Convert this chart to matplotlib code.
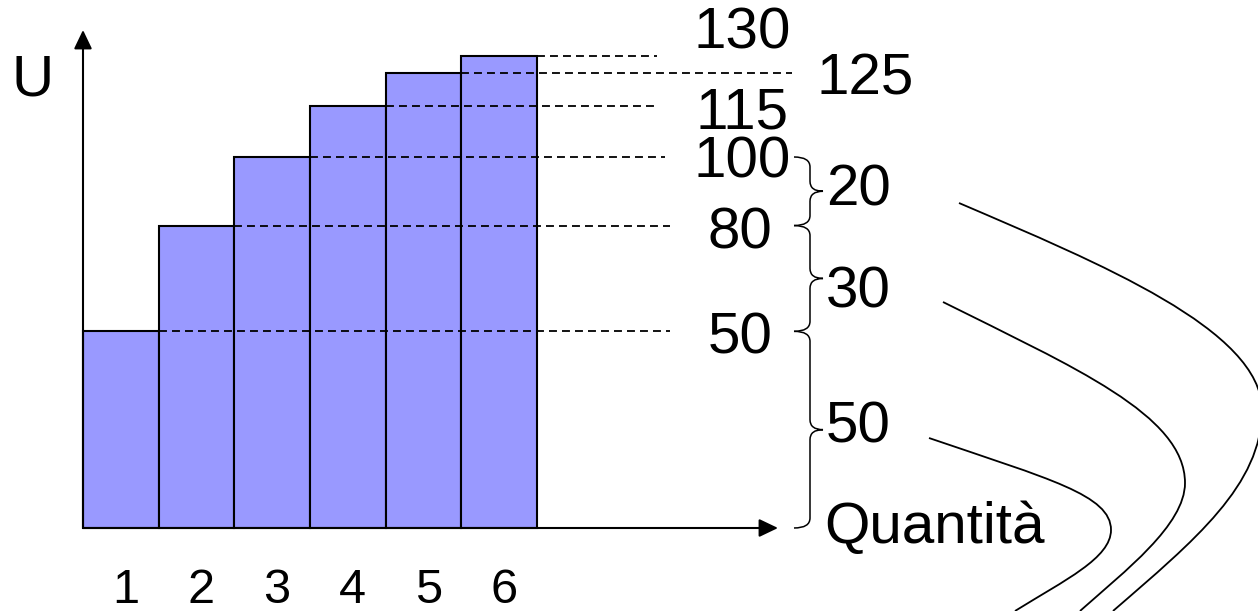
import numpy as np
import matplotlib.pyplot as plt
from matplotlib.path import Path
from matplotlib.patches import PathPatch

plt.rcParams['font.family'] = ['Liberation Sans', 'DejaVu Sans']

quantita = [1, 2, 3, 4, 5, 6]
utilita = [50, 80, 100, 115, 125, 130]
marginali = list(np.diff([0] + utilita))

W, H = 1258, 611
x0_px, bar_px, base_px = 83, 75.67, 528
a_px, p = 5.47, 0.9157   # hand-drawn vertical scale, a bit compressed at the top

fig = plt.figure(figsize=(W / 100, H / 100), dpi=100)
ax = fig.add_axes([0, 0, 1, 1])
ax.axis('off')
ax.set_yscale('function', functions=(lambda v: np.sign(v) * np.abs(v) ** p,
                                     lambda u: np.sign(u) * np.abs(u) ** (1 / p)))


def px2x(px):
    return (px - x0_px) / bar_px + 0.5


ax.set_xlim(px2x(0), px2x(W))
ax.set_ylim(-((H - base_px) / a_px) ** (1 / p), (base_px / a_px) ** (1 / p))


def vy(v):
    # image-pixel row of a value
    return H - ax.transData.transform((0, v))[1]


def fp(x, y):
    return (x / W, 1 - y / H)


ax.bar(quantita, utilita, width=1, color='#9999ff', edgecolor='black',
       linewidth=1.5, zorder=2)

# dashed guides and value labels
dash_end = [670, 670, 665, 657, 792, 657]
lab_x = [740, 740, 742, 742, 865, 742]
lab_dy = [22, 23, 21, 22, 22, -8]
for q, v, xe, xl, dy in zip(quantita, utilita, dash_end, lab_x, lab_dy):
    ax.plot([q + 0.5, px2x(xe)], [v, v], color='black', lw=1.3,
            dashes=(4.4, 2.8), zorder=3)
    ax.annotate(str(v), xy=(px2x(xl), v), xytext=(0, -dy * 0.72),
                textcoords='offset points', ha='center', va='baseline',
                fontsize=42)

for q in quantita:
    ax.annotate(str(q), xy=(q, 0), xytext=(3.5, -(603 - base_px) * 0.72),
                textcoords='offset points', ha='center', va='baseline',
                fontsize=35)

# axes arrows
arrow = dict(arrowstyle='-|>,head_length=1.15,head_width=0.55', lw=1.5,
             color='black', shrinkA=0, shrinkB=0, mutation_scale=10)
ax.annotate('', xy=(x0_px, H - 30), xytext=(x0_px, H - base_px),
            xycoords='figure pixels', textcoords='figure pixels', arrowprops=arrow)
ax.annotate('', xy=(778, H - base_px), xytext=(x0_px, H - base_px),
            xycoords='figure pixels', textcoords='figure pixels', arrowprops=arrow)

fig.text(*fp(33, 96), 'U', ha='center', va='baseline', fontsize=42)
fig.text(*fp(824, 543), 'Quantità', ha='left', va='baseline', fontsize=42)

# braces with the marginal utilities
xh, xb, xt, r = 794, 810, 823, 10
brace_dy = [13, 29, 14]
lows = [0] + utilita
for i in range(3):
    y0, y1 = vy(utilita[i]), vy(lows[i])
    ym = (y0 + y1) / 2
    verts = [(xh, y0), (xb, y0), (xb, y0 + r), (xb, ym - r), (xb, ym), (xt, ym),
             (xb, ym), (xb, ym + r), (xb, y1 - r), (xb, y1), (xh, y1)]
    codes = [Path.MOVETO, Path.CURVE3, Path.CURVE3, Path.LINETO, Path.CURVE3,
             Path.CURVE3, Path.CURVE3, Path.CURVE3, Path.LINETO, Path.CURVE3,
             Path.CURVE3]
    fig.patches.append(PathPatch(Path([fp(*v) for v in verts], codes),
                                 transform=fig.transFigure, fill=False,
                                 lw=1.1, edgecolor='black'))
    fig.text(*fp(826, ym + brace_dy[i]), str(marginali[i]), ha='left',
             va='baseline', fontsize=42)

# indifference-like curves on the right: two cubic pieces meeting at the nose
curves = [
    [(959, 203), (1099, 263), (1262, 330), (1262, 410), (1262, 485),
     (1195, 540), (1113, 611)],
    [(943, 302), (1073, 367), (1185, 415), (1185, 483), (1185, 525),
     (1125, 571), (1080, 611)],
    [(929, 438), (1049, 479), (1111, 495), (1111, 530), (1111, 558),
     (1065, 580), (1015, 611)],
]
for pts in curves:
    codes = [Path.MOVETO] + [Path.CURVE4] * 6
    fig.patches.append(PathPatch(Path([fp(*c) for c in pts], codes),
                                 transform=fig.transFigure, fill=False,
                                 lw=1.3, edgecolor='black'))

fig.savefig('out.png', dpi=100)
